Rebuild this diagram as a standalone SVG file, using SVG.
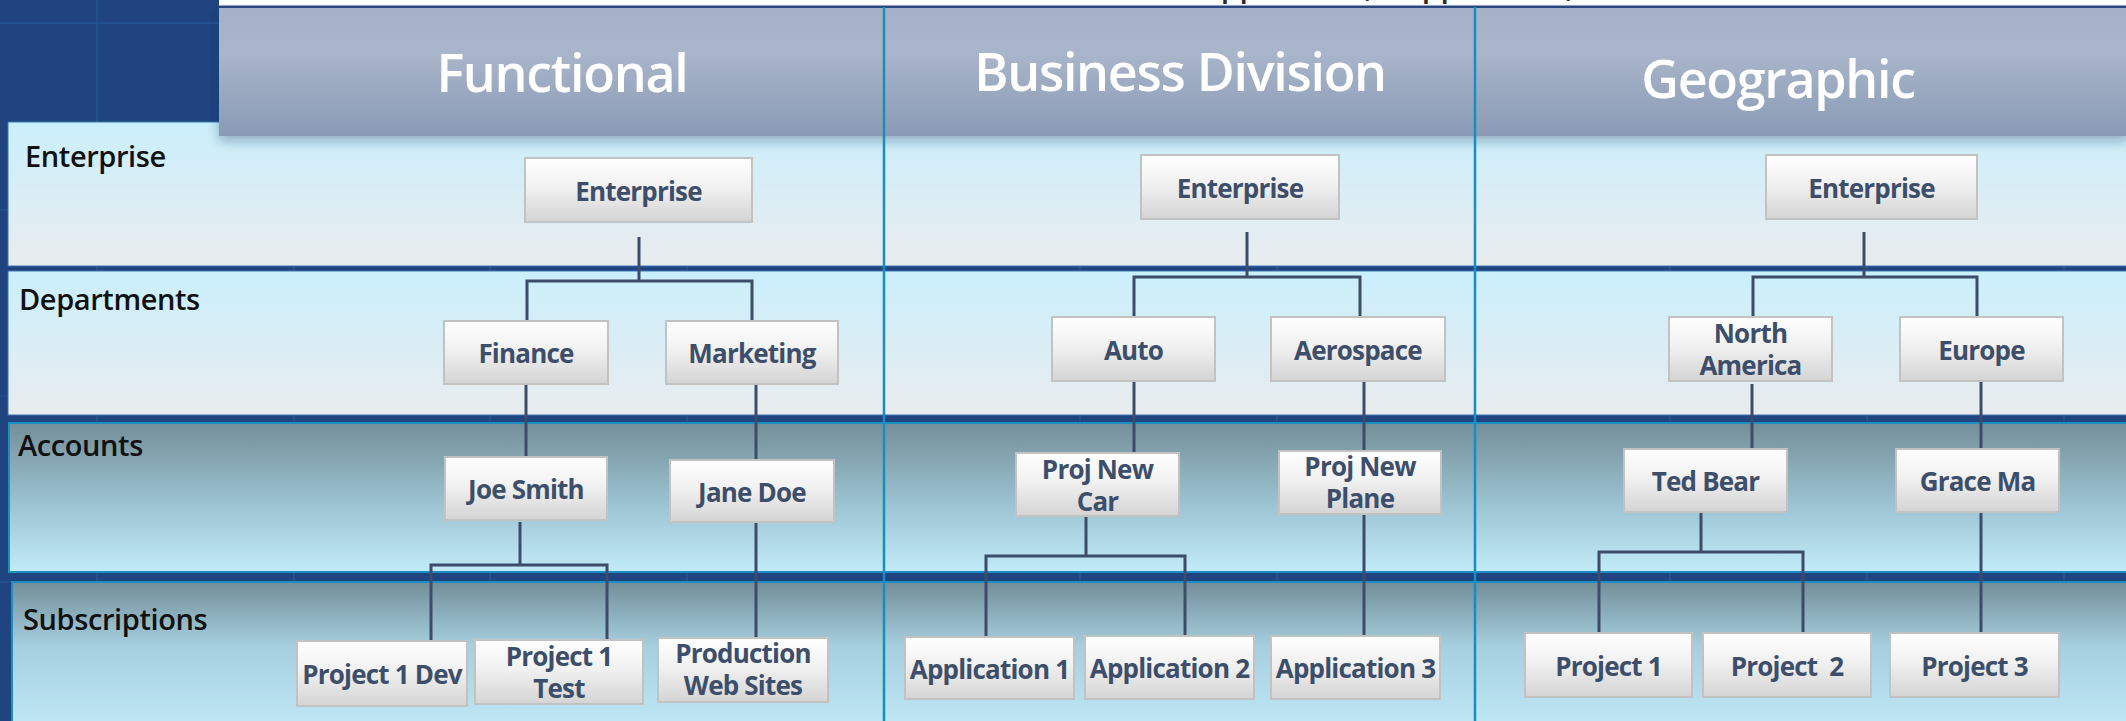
<svg xmlns="http://www.w3.org/2000/svg" width="2126" height="721" viewBox="0 0 2126 721">
  <defs>
    <linearGradient id="boxGrad" x1="0" y1="0" x2="0" y2="1">
      <stop offset="0" stop-color="#ffffff"/>
      <stop offset="0.45" stop-color="#f1f1f1"/>
      <stop offset="1" stop-color="#d4d4d4"/>
    </linearGradient>
    <linearGradient id="lightBand" x1="0" y1="0" x2="0" y2="1">
      <stop offset="0" stop-color="#caeffc"/>
      <stop offset="1" stop-color="#e9ecee"/>
    </linearGradient>
    <linearGradient id="darkBand" x1="0" y1="0" x2="0" y2="1">
      <stop offset="0" stop-color="#748f99"/>
      <stop offset="0.5" stop-color="#98bfcd"/>
      <stop offset="1" stop-color="#c2ebfa"/>
    </linearGradient>
    <linearGradient id="subBand" x1="0" y1="0" x2="0" y2="1">
      <stop offset="0" stop-color="#728e99"/>
      <stop offset="0.4" stop-color="#a6cfdf"/>
      <stop offset="1" stop-color="#c4ecfb"/>
    </linearGradient>
    <linearGradient id="headGrad" x1="0" y1="0" x2="0" y2="1">
      <stop offset="0" stop-color="#a4b1c6"/>
      <stop offset="0.35" stop-color="#a9b5ca"/>
      <stop offset="1" stop-color="#899bb5"/>
    </linearGradient>
    <filter id="headShadow" x="-5%" y="-20%" width="110%" height="150%">
      <feDropShadow dx="0" dy="5" stdDeviation="6" flood-color="#163552" flood-opacity="0.35"/>
    </filter>
    <style>
      .grid { stroke: #2b5a9b; stroke-width: 1; }
      .band-light { fill: url(#lightBand); stroke: #3f74b0; stroke-width: 1; }
      .band-dark { stroke: #1b8fc2; stroke-width: 2; }
      .divider { stroke: #168ec2; stroke-width: 2.5; }
      .rowlabel { font-family: "Open Sans", "Noto Sans", sans-serif; font-weight: 600; font-size: 29px; letter-spacing: -0.4px; fill: #111111; }
      .colhead { font-family: "Open Sans", "Noto Sans", sans-serif; font-weight: 600; font-size: 52px; letter-spacing: -1.3px; fill: #ffffff; text-anchor: middle; }
      .toptext { font-family: "Open Sans", "Noto Sans", sans-serif; font-weight: 600; font-size: 30px; fill: #2a2a2a; }
      .node rect { fill: url(#boxGrad); stroke: #c2c2c2; stroke-width: 2; }
      .node text { font-family: "Open Sans", "Noto Sans", sans-serif; font-weight: 700; font-size: 26px; letter-spacing: -0.8px; fill: #3d4e6a; text-anchor: middle; }
      #connectors path { fill: none; stroke: #3d4d69; stroke-width: 3; stroke-linejoin: miter; }
    </style>
  </defs>

  <!-- backdrop with faint grid -->
  <rect x="0" y="0" width="2126" height="721" fill="#1f4480"/>
  <g class="grid">
    <path d="M97 0V721M294 0V721M490 0V721M687 0V721M1080 0V721M1277 0V721M1670 0V721M1867 0V721M2064 0V721"/>
    <path d="M0 23H2126M0 210H2126M0 396H2126M0 582H2126"/>
  </g>

  <!-- caption line above the header (only its descenders fall inside the page) -->
  <rect x="219" y="0" width="1907" height="6" fill="#ffffff"/>
  <text class="toptext" x="1201" y="-3">Application,</text>
  <text class="toptext" x="1402" y="-3">Application,</text>

  <!-- level bands -->
  <rect id="band-enterprise" class="band-light" x="8" y="122" width="2130" height="144"/>
  <rect id="band-departments" class="band-light" x="8" y="271" width="2130" height="144"/>
  <rect id="band-accounts" class="band-dark" x="9" y="423" width="2130" height="149" fill="url(#darkBand)"/>
  <rect id="band-subscriptions" class="band-dark" x="12" y="582" width="2130" height="160" fill="url(#subBand)"/>

  <!-- column header strip -->
  <rect x="219" y="5.5" width="1907" height="3" fill="#2b4b83"/>
  <rect x="219" y="8" width="1910" height="128" fill="url(#headGrad)" filter="url(#headShadow)"/>

  <!-- column dividers -->
  <path class="divider" d="M884 7V721M1475 7V721"/>

  <!-- row labels -->
  <text class="rowlabel" x="25" y="167">Enterprise</text>
  <text class="rowlabel" x="19" y="310">Departments</text>
  <text class="rowlabel" x="18" y="456">Accounts</text>
  <text class="rowlabel" x="23" y="630">Subscriptions</text>

  <!-- column titles -->
  <text id="head-functional" class="colhead" x="562" y="92">Functional</text>
  <text id="head-business" class="colhead" x="1180" y="91">Business Division</text>
  <text id="head-geographic" class="colhead" x="1778" y="98">Geographic</text>

  <!-- connectors -->
  <g id="connectors">
    <!-- Functional -->
    <path d="M639 237V282"/>
    <path d="M527 321V281H752V321"/>
    <path d="M526 384V457"/>
    <path d="M756 380V460"/>
    <path d="M520 522V565"/>
    <path d="M431 641V565H607V640"/>
    <path d="M756 523V638"/>
    <!-- Business Division -->
    <path d="M1247 232V278"/>
    <path d="M1134 317V277H1360V317"/>
    <path d="M1134 381V453"/>
    <path d="M1364 379V451"/>
    <path d="M1086 516V556"/>
    <path d="M986 637V556H1185V636"/>
    <path d="M1364 514V636"/>
    <!-- Geographic -->
    <path d="M1864 232V278"/>
    <path d="M1753 317V277H1977V317"/>
    <path d="M1752 384V449"/>
    <path d="M1981 381V449"/>
    <path d="M1701 512V552"/>
    <path d="M1599 633V552H1803V633"/>
    <path d="M1981 512V636"/>
  </g>

  <!-- Functional nodes -->
  <g id="f-enterprise" class="node"><rect x="525" y="158" width="227" height="64"/><text x="638.5" y="201">Enterprise</text></g>
  <g id="f-finance" class="node"><rect x="444" y="321" width="164" height="63"/><text x="526" y="363">Finance</text></g>
  <g id="f-marketing" class="node"><rect x="666" y="321" width="172" height="63"/><text x="752" y="363">Marketing</text></g>
  <g id="f-joe-smith" class="node"><rect x="445" y="457" width="162" height="63"/><text x="526" y="499">Joe Smith</text></g>
  <g id="f-jane-doe" class="node"><rect x="670" y="460" width="164" height="62"/><text x="752" y="501.5">Jane Doe</text></g>
  <g id="f-project1-dev" class="node"><rect x="297" y="641" width="170" height="65"/><text x="382" y="684">Project 1 Dev</text></g>
  <g id="f-project1-test" class="node"><rect x="475" y="640" width="168" height="64"/><text x="559" y="666">Project 1<tspan x="559" dy="32">Test</tspan></text></g>
  <g id="f-production" class="node"><rect x="658" y="638" width="170" height="64"/><text x="743" y="663">Production<tspan x="743" dy="32">Web Sites</tspan></text></g>

  <!-- Business Division nodes -->
  <g id="b-enterprise" class="node"><rect x="1141" y="155" width="198" height="64"/><text x="1240" y="198">Enterprise</text></g>
  <g id="b-auto" class="node"><rect x="1052" y="317" width="163" height="64"/><text x="1133.5" y="359.5">Auto</text></g>
  <g id="b-aerospace" class="node"><rect x="1271" y="317" width="174" height="64"/><text x="1358" y="359.5">Aerospace</text></g>
  <g id="b-proj-new-car" class="node"><rect x="1016" y="453" width="163" height="63"/><text x="1097.5" y="479">Proj New<tspan x="1097.5" dy="32">Car</tspan></text></g>
  <g id="b-proj-new-plane" class="node"><rect x="1279" y="451" width="162" height="63"/><text x="1360" y="476">Proj New<tspan x="1360" dy="32">Plane</tspan></text></g>
  <g id="b-app1" class="node"><rect x="905" y="637" width="169" height="62"/><text x="989.5" y="678.5">Application 1</text></g>
  <g id="b-app2" class="node"><rect x="1085" y="636" width="169" height="63"/><text x="1169.5" y="678">Application 2</text></g>
  <g id="b-app3" class="node"><rect x="1271" y="636" width="169" height="63"/><text x="1355.5" y="678">Application 3</text></g>

  <!-- Geographic nodes -->
  <g id="g-enterprise" class="node"><rect x="1766" y="155" width="211" height="64"/><text x="1871.5" y="198">Enterprise</text></g>
  <g id="g-north-america" class="node"><rect x="1669" y="317" width="163" height="64"/><text x="1750.5" y="343">North<tspan x="1750.5" dy="32">America</tspan></text></g>
  <g id="g-europe" class="node"><rect x="1900" y="317" width="163" height="64"/><text x="1981.5" y="359.5">Europe</text></g>
  <g id="g-ted-bear" class="node"><rect x="1624" y="449" width="163" height="63"/><text x="1705.5" y="491">Ted Bear</text></g>
  <g id="g-grace-ma" class="node"><rect x="1896" y="449" width="163" height="63"/><text x="1977.5" y="491">Grace Ma</text></g>
  <g id="g-project1" class="node"><rect x="1525" y="633" width="167" height="64"/><text x="1608.5" y="675.5">Project 1</text></g>
  <g id="g-project2" class="node"><rect x="1703" y="633" width="168" height="64"/><text x="1787" y="675.5" xml:space="preserve">Project  2</text></g>
  <g id="g-project3" class="node"><rect x="1890" y="633" width="169" height="64"/><text x="1974.5" y="675.5">Project 3</text></g>
</svg>
